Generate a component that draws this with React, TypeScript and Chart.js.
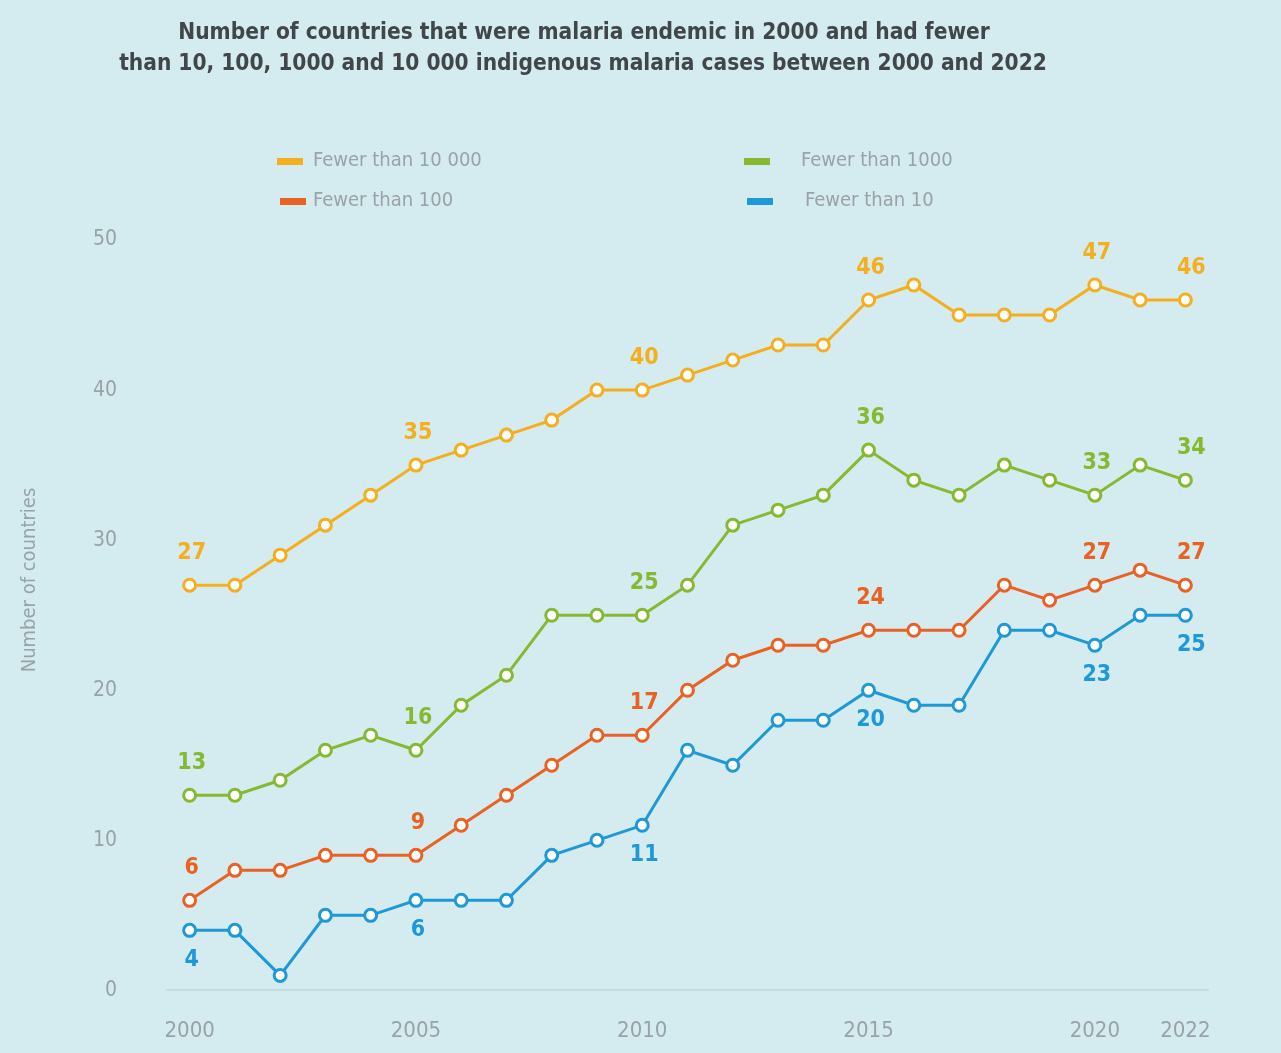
import React, { useEffect, useRef } from "react";
import { Chart, registerables } from "chart.js";

Chart.register(...registerables);

// Years on the horizontal axis
const years = [
  "2000", "2001", "2002", "2003", "2004", "2005", "2006", "2007", "2008", "2009", "2010", "2011",
  "2012", "2013", "2014", "2015", "2016", "2017", "2018", "2019", "2020", "2021", "2022",
];
const shownYears = ["2000", "2005", "2010", "2015", "2020", "2022"];

// Number of countries below each case threshold
const fewerThan10000 = [27, 27, 29, 31, 33, 35, 36, 37, 38, 40, 40, 41, 42, 43, 43, 46, 47, 45, 45, 45, 47, 46, 46];
const fewerThan1000 = [13, 13, 14, 16, 17, 16, 19, 21, 25, 25, 25, 27, 31, 32, 33, 36, 34, 33, 35, 34, 33, 35, 34];
const fewerThan100 = [6, 8, 8, 9, 9, 9, 11, 13, 15, 17, 17, 20, 22, 23, 23, 24, 24, 24, 27, 26, 27, 28, 27];
const fewerThan10 = [4, 4, 1, 5, 5, 6, 6, 6, 9, 10, 11, 16, 15, 18, 18, 20, 19, 19, 24, 24, 23, 25, 25];

const seriesNames = ["Fewer than 10 000", "Fewer than 1000", "Fewer than 100", "Fewer than 10"];
const seriesColors = ["#F4AE1E", "#86B932", "#EA6124", "#1E98D6"];
const labelledYears = ["2000", "2005", "2010", "2015", "2020", "2022"];
const labelSides = ["above", "above", "above", "below"];

const titleLines = [
  "Number of countries that were malaria endemic in 2000 and had fewer",
  "than 10, 100, 1000 and 10 000 indigenous malaria cases between 2000 and 2022",
];
const yTicks = [0, 10, 20, 30, 40, 50];
const yAxisTitle = "Number of countries";

const BG = "#D4ECEF";
const TICK_GRAY = "#99A3A7";
const FONT = "'Liberation Sans Narrow', 'DejaVu Sans Condensed', 'Liberation Sans', sans-serif";

const overlayPlugin = {
  id: "overlay",
  afterDatasetsDraw(chart: any) {
    const ctx = chart.ctx;
    ctx.save();
    // value labels next to selected points
    chart.data.datasets.forEach((ds: any, i: number) => {
      const meta = chart.getDatasetMeta(i);
      ctx.fillStyle = seriesColors[i];
      ctx.font = `bold 23px ${FONT}`;
      ctx.textAlign = "center";
      ctx.textBaseline = "middle";
      labelledYears.forEach((yr) => {
        const idx = years.indexOf(yr);
        const pt = meta.data[idx];
        const dy = labelSides[i] === "above" ? -32 : 30;
        const dx = idx === years.length - 1 ? 6 : 2;
        ctx.fillText(String(ds.data[idx]), pt.x + dx, pt.y + dy);
      });
    });
    ctx.restore();
  },
  afterDraw(chart: any) {
    const ctx = chart.ctx;
    ctx.save();
    // title
    ctx.fillStyle = "#404649";
    ctx.font = `bold 22.5px ${FONT}`;
    ctx.textAlign = "center";
    ctx.textBaseline = "middle";
    ctx.fillText(titleLines[0], 584, 33);
    ctx.fillText(titleLines[1], 583, 64);

    // legend in a 2 x 2 grid
    const markerX = [277, 744];
    const textX = [313, 801];
    const rowY = [161, 201];
    chart.data.datasets.forEach((ds: any, i: number) => {
      const col = i % 2;
      const row = Math.floor(i / 2);
      ctx.fillStyle = ds.borderColor;
      ctx.fillRect(markerX[col] + (row === 1 ? 3 : 0), rowY[row] - 3, 26, 7);
      ctx.fillStyle = TICK_GRAY;
      ctx.font = `20px ${FONT}`;
      ctx.textAlign = "left";
      ctx.textBaseline = "middle";
      ctx.fillText(ds.label, textX[col] + (row === 1 && col === 1 ? 4 : 0), rowY[row]);
    });

    // y axis title
    ctx.translate(30, 580);
    ctx.rotate(-Math.PI / 2);
    ctx.fillStyle = TICK_GRAY;
    ctx.font = `20px ${FONT}`;
    ctx.textAlign = "center";
    ctx.textBaseline = "middle";
    ctx.fillText(yAxisTitle, 0, 0);
    ctx.restore();
  },
};

export default function App() {
  const canvasRef = useRef<HTMLCanvasElement | null>(null);

  useEffect(() => {
    document.body.style.margin = "0";
    document.body.style.background = BG;
    const canvas = canvasRef.current;
    if (!canvas) return;
    const values = [fewerThan10000, fewerThan1000, fewerThan100, fewerThan10];
    const chart = new Chart(canvas, {
      type: "line",
      data: {
        labels: years,
        datasets: values.map((data, i) => ({
          label: seriesNames[i],
          data,
          borderColor: seriesColors[i],
          backgroundColor: seriesColors[i],
          borderWidth: 3,
          pointRadius: 6,
          pointBorderWidth: 3,
          pointBackgroundColor: "#FFFFFF",
          pointBorderColor: seriesColors[i],
          tension: 0,
          fill: false,
        })),
      },
      options: {
        animation: false,
        responsive: false,
        maintainAspectRatio: false,
        layout: { padding: { top: 240, left: 0, right: 73, bottom: 0 } },
        plugins: {
          legend: { display: false },
          title: { display: false },
          tooltip: { enabled: false },
        },
        scales: {
          x: {
            type: "category",
            offset: true,
            grid: { display: false, drawTicks: false },
            border: { display: true, color: "#C6DCDF", width: 2 },
            ticks: {
              autoSkip: false,
              maxRotation: 0,
              padding: 28,
              color: TICK_GRAY,
              font: { family: FONT, size: 22 },
              callback: (_v: any, idx: number) => (shownYears.includes(years[idx]) ? years[idx] : ""),
            },
            afterFit: (scale: any) => {
              scale.height = 62;
            },
          },
          y: {
            min: yTicks[0],
            max: yTicks[yTicks.length - 1],
            grid: { display: false, drawTicks: false },
            border: { display: false },
            ticks: {
              stepSize: 10,
              padding: 50,
              color: TICK_GRAY,
              font: { family: FONT, size: 21 },
            },
            afterFit: (scale: any) => {
              scale.width = 167;
            },
          },
        },
      },
      plugins: [overlayPlugin],
    });
    return () => chart.destroy();
  }, []);

  return (
    <div style={{ width: 1281, height: 1053, background: BG }}>
      <canvas ref={canvasRef} width={1281} height={1053} style={{ display: "block" }} />
    </div>
  );
}
